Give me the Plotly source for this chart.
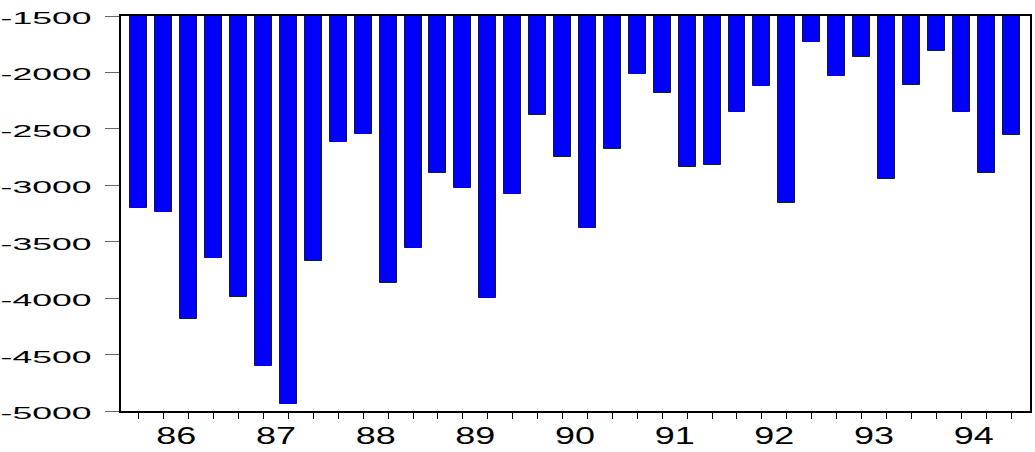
import plotly.graph_objects as go

years = ["86", "87", "88", "89", "90", "91", "92", "93", "94"]
quarters = ["Q1", "Q2", "Q3", "Q4"]
values = [
    -3200, -3240, -4187, -3648,
    -3986, -4602, -4940, -3674,
    -2620, -2546, -3863, -3559,
    -2894, -3023, -3995, -3073,
    -2375, -2746, -3380, -2675,
    -2013, -2184, -2838, -2820,
    -2349, -2122, -3159, -1727,
    -2030, -1865, -2944, -2107,
    -1812, -2349, -2891, -2552,
]
y_ticks = [-1500, -2000, -2500, -3000, -3500, -4000, -4500, -5000]

n = len(values)
xpos = list(range(n))
year_starts = [i * len(quarters) for i in range(len(years))]
year_mids = [s + (len(quarters) - 1) / 2 for s in year_starts]
labels = [f"{y}{q}" for y in years for q in quarters]

font_family = "Liberation Sans, Arial, sans-serif"

fig = go.Figure()
fig.add_trace(go.Bar(
    x=xpos, y=values, width=0.68,
    marker=dict(color="#0000FF", line=dict(color="#1a1a1a", width=1)),
    hovertext=labels, showlegend=False,
))
fig.add_trace(go.Scatter(x=year_mids, y=[None] * len(year_mids), xaxis="x2",
                         mode="markers", showlegend=False, hoverinfo="skip"))

xr = [-0.72, n - 1 + 0.76]
fig.update_layout(
    width=1035, height=452,
    margin=dict(l=121, r=3, t=16, b=40),
    plot_bgcolor="white", paper_bgcolor="white",
    bargap=0,
    xaxis=dict(
        range=xr, showgrid=False, zeroline=False,
        showline=True, linecolor="black", linewidth=2, mirror=True,
        tickmode="array", tickvals=year_starts, ticktext=["" for _ in year_starts],
        ticks="outside", ticklen=10, tickcolor="black", tickwidth=1,
        minor=dict(tickmode="array", tickvals=xpos, ticks="outside", ticklen=6,
                   tickcolor="black", tickwidth=1, showgrid=False),
    ),
    xaxis2=dict(
        range=xr, overlaying="x", anchor="y", side="bottom",
        showgrid=False, zeroline=False, showline=False,
        tickmode="array", tickvals=year_mids, ticktext=years,
        ticks="", ticklabelstandoff=9,
        tickfont=dict(family=font_family, size=23, color="black"),
    ),
    yaxis=dict(
        range=[-5000, -1500], showgrid=False, zeroline=False,
        showline=True, linecolor="black", linewidth=2, mirror=True,
        tickmode="array", tickvals=y_ticks, ticktext=[str(v) for v in y_ticks],
        ticks="outside", ticklen=14, tickcolor="#666666", tickwidth=1,
        ticklabelstandoff=10, ticklabelshift=2,
        tickfont=dict(family=font_family, size=17, color="black"),
    ),
)

post = """
var gd = document.getElementById('{plot_id}');
function stretch(){
  gd.querySelectorAll('g.ytick text').forEach(function(t){
    t.setAttribute('textLength', '91'); t.setAttribute('lengthAdjust', 'spacingAndGlyphs');
  });
  gd.querySelectorAll('g.x2tick text').forEach(function(t){
    t.setAttribute('textLength', '40'); t.setAttribute('lengthAdjust', 'spacingAndGlyphs');
  });
}
stretch();
gd.on && gd.on('plotly_afterplot', stretch);
"""

fig.write_html("out.html", post_script=post)
